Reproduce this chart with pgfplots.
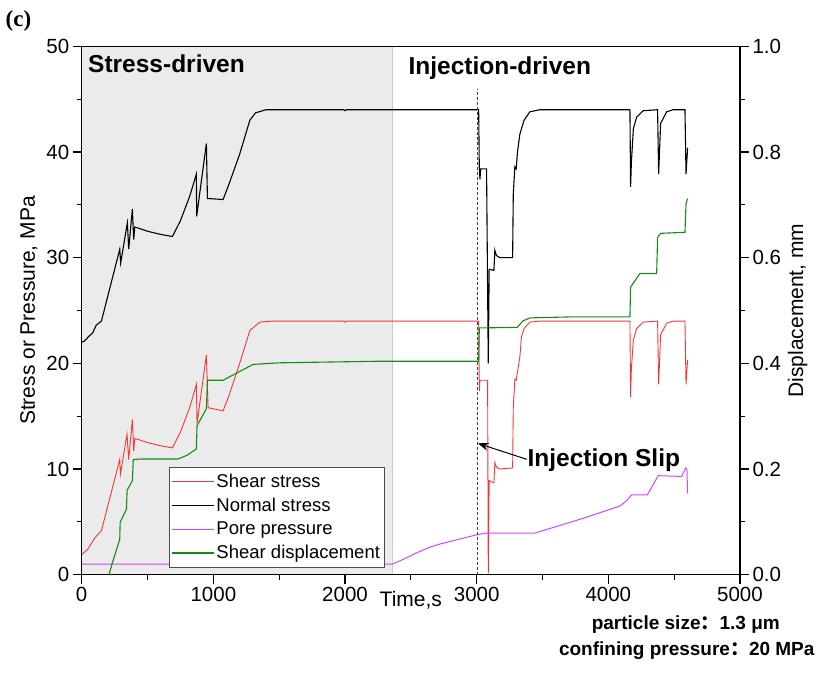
\documentclass[border=0pt]{standalone}
\usepackage{pgfplots}
\pgfplotsset{compat=1.18}
\usepackage{fontspec}
\setmainfont{Liberation Sans}
\newfontfamily\serifb{Liberation Serif}
\newfontfamily\cjk{Noto Sans CJK SC}
\usetikzlibrary{arrows.meta}
\definecolor{cred}{RGB}{240,55,55}
\definecolor{cmag}{RGB}{210,70,255}
\definecolor{cgreen}{RGB}{20,140,20}
\definecolor{shade}{RGB}{235,235,235}

\pgfplotstableread{
t y
0 1.9
48 2.43
99 3.47
150 4.17
289 10.9
294 9.5
344 13.3
357 10.9
385 14.7
395 11.7
403 12.9
500 12.5
600 12.2
689 12.0
750 13.5
820 15.8
871 18.0
876 14.3
947 20.8
960 15.8
1074 15.5
1120 17.0
1200 20.0
1277 23.1
1353 23.9
1450 24.0
1990 24.0
2000 23.9
2010 24.0
3015 24.0
3020 17.4
3025 18.4
3083 18.4
3088 0.0
3095 8.9
3131 8.7
3138 10.6
3150 10.2
3171 10.0
3273 10.1
3278 15.8
3290 18.5
3300 18.4
3328 20.6
3340 22.5
3360 23.3
3404 23.9
3480 24.0
4164 24.0
4169 16.8
4175 19.5
4190 22.2
4215 23.3
4265 23.9
4374 24.0
4382 18.0
4397 22.7
4443 23.8
4493 24.0
4582 24.0
4590 18.0
4602 20.3
}\shear

\pgfplotstableread{
t y
0 22.0
20 22.1
50 22.5
84 22.9
110 23.6
150 24.0
289 30.8
296 29.5
347 33.3
357 30.8
385 34.6
395 31.7
403 32.9
500 32.5
600 32.2
689 32.0
750 33.5
820 35.8
871 37.9
873 33.9
947 40.8
955 35.6
1074 35.5
1120 37.0
1200 39.8
1277 43.0
1320 43.7
1400 44.0
1990 44.0
2000 43.9
2010 44.0
3015 44.0
3020 38.4
3025 37.4
3030 38.4
3075 38.4
3088 20.0
3095 28.9
3131 28.8
3138 30.7
3150 30.2
3176 30.0
3273 30.0
3278 36.0
3290 38.6
3300 38.4
3310 40.0
3328 41.7
3360 43.0
3404 43.8
3480 44.0
4164 44.0
4169 36.7
4175 39.0
4190 42.2
4215 43.3
4265 43.9
4374 44.0
4382 37.9
4397 42.7
4443 43.8
4493 44.0
4582 44.0
4590 37.9
4602 40.4
}\normal

\pgfplotstableread{
t y
0 1.0
2360 1.0
2450 1.5
2550 2.1
2644 2.6
2720 2.9
3007 3.8
3075 3.94
3442 3.94
3800 5.3
4088 6.5
4139 7.0
4177 7.55
4296 7.55
4379 9.37
4557 9.3
4587 10.1
4597 10.0
4602 7.7
}\pore

\pgfplotstableread{
t y
208 0.000
230 0.020
289 0.067
292 0.099
340 0.124
345 0.160
385 0.178
392 0.218
450 0.219
732 0.219
800 0.226
871 0.238
876 0.282
947 0.314
955 0.368
1074 0.368
1150 0.378
1302 0.398
1505 0.401
2264 0.404
3015 0.404
3020 0.467
3308 0.468
3350 0.480
3404 0.486
3733 0.488
4164 0.488
4169 0.544
4190 0.552
4240 0.570
4367 0.570
4374 0.638
4397 0.646
4582 0.648
4590 0.702
4602 0.712
}\disp

\begin{document}
\begin{tikzpicture}
\useasboundingbox (-81.7bp,-99.3bp) rectangle (736.3bp,574.7bp);
\pgfplotsset{
  every axis/.append style={
    scale only axis, width=658.3bp, height=528.4bp,
    at={(0,0)}, anchor=south west,
    xmin=0, xmax=5000,
    tick align=outside,
    major tick length=9bp, minor tick length=5bp,
    every tick/.style={black, line width=1.1bp},
    axis line style={line width=1.4bp},
    /pgf/number format/assume math mode=true,
    tick label style={font=\fontsize{20.5bp}{24bp}\selectfont},
    label style={font=\fontsize{21bp}{25bp}\selectfont},
  }
}
\begin{axis}[
  ymin=0, ymax=50,
  axis on top,
  tick pos=left,
  xtick={0,1000,...,5000}, minor x tick num=1,
  ytick={0,10,...,50}, minor y tick num=1,
  /pgf/number format/1000 sep={},
  xlabel={Time,s},
  xlabel style={at={(axis description cs:0.5,0)}, anchor=north, yshift=-13bp},
  ylabel={Stress or Pressure, MPa},
  ylabel style={yshift=2bp},
  legend style={at={(0.1326,0.204)}, anchor=north west, draw=black!70, line width=0.8bp,
    fill=white, font=\fontsize{18.5bp}{21bp}\selectfont, inner sep=2bp,
    nodes={inner ysep=4.6bp}},
  legend cell align=left,
  legend image code/.code={\draw[#1] (0bp,0bp) -- (42bp,0bp);},
]
\addplot[fill=shade, draw=none, forget plot] coordinates {(0,0) (2360,0) (2360,50) (0,50)} -- cycle;
\addplot[gray!40, line width=0.5bp, forget plot] coordinates {(2360,0) (2360,50)};
\addplot[cred, line width=0.9bp] table {\shear};
\addlegendentry{Shear stress}
\addplot[black, line width=1.1bp] table {\normal};
\addlegendentry{Normal stress}
\addplot[cmag, line width=1.0bp] table {\pore};
\addlegendentry{Pore pressure}
\addlegendimage{cgreen, line width=1.1bp}
\addlegendentry{Shear displacement}
\draw[black!75, line width=0.9bp, dash pattern=on 3bp off 2bp] (axis cs:3008,0) -- (axis cs:3008,46);
\node[anchor=base west, font=\bfseries\fontsize{24.5bp}{28bp}\selectfont, inner sep=0] at (axis cs:48,47.5) {Stress-driven};
\node[anchor=base west, font=\bfseries\fontsize{24.5bp}{28bp}\selectfont, inner sep=0] at (axis cs:2481,47.3) {Injection-driven};
\node[anchor=base west, font=\bfseries\fontsize{24.5bp}{28bp}\selectfont, inner sep=0] at (axis cs:3385,10.2) {Injection Slip};
\draw[-{Stealth[length=11bp,width=8bp]}, line width=1bp] (axis cs:3380,10.92) -- (axis cs:3008,12.43);
\end{axis}
\begin{axis}[
  ymin=0, ymax=1,
  axis x line=none,
  axis y line*=right,
  ytick={0,0.2,...,1.0}, minor y tick num=1,
  yticklabel style={/pgf/number format/.cd, fixed, fixed zerofill, precision=1},
  ylabel={Displacement, mm},
  ylabel style={yshift=0bp},
]
\addplot[cgreen, line width=1.1bp] table {\disp};
\end{axis}
\node[font=\serifb\bfseries\fontsize{23bp}{26bp}\selectfont, inner sep=0] at (-63.2bp,553.7bp) {(c)};
\node[anchor=base east, font=\bfseries\fontsize{19bp}{22bp}\selectfont, inner sep=0] at (698.3bp,-54.3bp) {particle size{\cjk ：}1.3 μm};
\node[anchor=base east, font=\bfseries\fontsize{19bp}{22bp}\selectfont, inner sep=0] at (733bp,-80.3bp) {confining pressure{\cjk ：}20 MPa};
\end{tikzpicture}
\end{document}
